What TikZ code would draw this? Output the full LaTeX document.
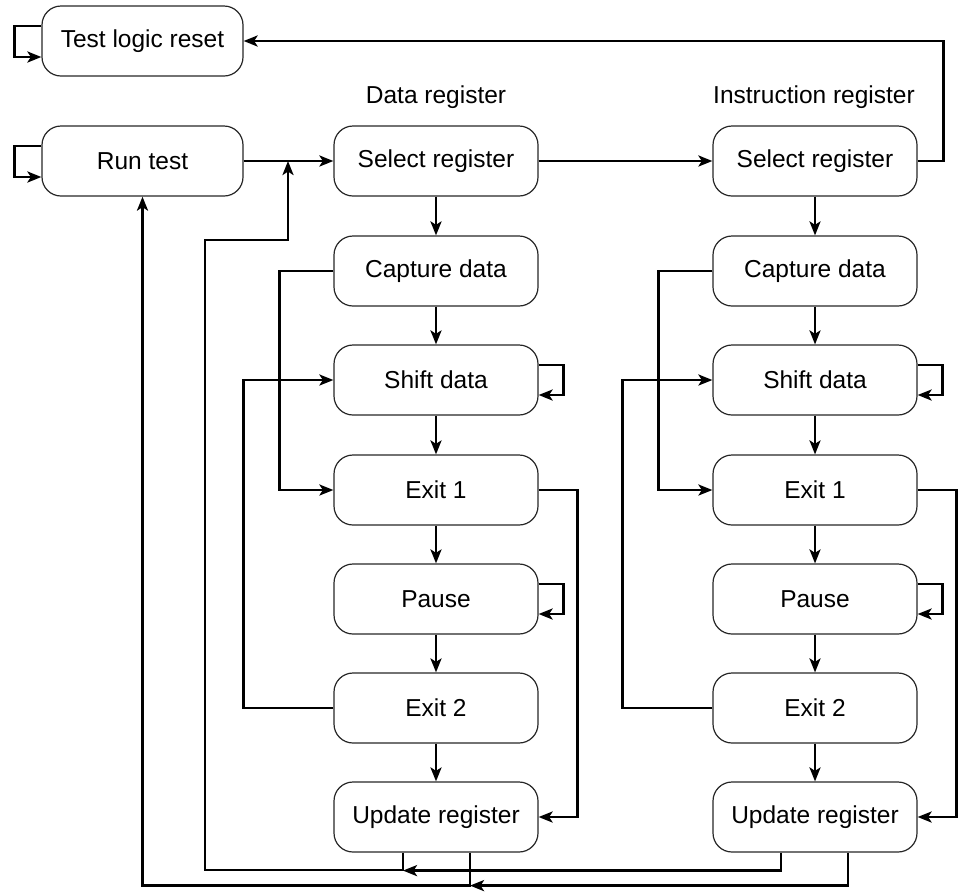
\documentclass[tikz,border=0pt]{standalone}
\usepackage{fontspec}
\setmainfont{Liberation Sans}
\usetikzlibrary{arrows.meta}
\begin{document}
\begin{tikzpicture}[x=1pt,y=-1pt,
  box/.style={draw=black!85,line width=1.2pt,rounded corners=19pt,minimum width=204pt,minimum height=70pt,inner sep=0pt,font=\fontsize{24.5}{26}\selectfont},
  lbl/.style={font=\fontsize{24.5}{26}\selectfont,inner sep=0pt},
  conn/.style={draw=black,line width=2.6pt,-{Stealth[length=14pt,width=11pt,inset=3.5pt]}}]
\useasboundingbox (0,0) rectangle (960,895);
% left column
\node[box,minimum width=201pt] (tlr) at (142.5,41) {Test logic reset};
\node[box,minimum width=201pt] (rt) at (142.5,161) {Run test};
% headers
\node[lbl] (dh) at (436,97) {Data register};
\node[lbl] (ih) at (814,97) {Instruction register};
% data column
\node[box] (dsel) at (436,161) {Select register};
\node[box] (dcap) at (436,271) {Capture data};
\node[box] (dsh) at (436,380) {Shift data};
\node[box] (de1) at (436,490) {Exit 1};
\node[box] (dpa) at (436,599) {Pause};
\node[box] (de2) at (436,708) {Exit 2};
\node[box] (dup) at (436,817) {Update register};
% instruction column
\node[box] (isel) at (815,161) {Select register};
\node[box] (icap) at (815,271) {Capture data};
\node[box] (ish) at (815,380) {Shift data};
\node[box] (ie1) at (815,490) {Exit 1};
\node[box] (ipa) at (815,599) {Pause};
\node[box] (ie2) at (815,708) {Exit 2};
\node[box] (iup) at (815,817) {Update register};
% junction coordinates
\coordinate (j1) at (288,161);
\coordinate (j2) at ([xshift=-33pt,yshift=-18pt]dup.south);
\coordinate (j3) at ([xshift=34pt,yshift=-33pt]dup.south);
% self loops left
\draw[conn] ([yshift=15pt]tlr.west) -- ++(-27,0) -- ++(0,31) -- ([yshift=-16pt]tlr.west);
\draw[conn] ([yshift=15pt]rt.west) -- ++(-27,0) -- ++(0,31) -- ([yshift=-16pt]rt.west);
% top connections
\draw[conn] (rt.east) -- (dsel.west);
\draw[conn] (dsel.east) -- (isel.west);
\draw[conn] (isel.east) -- ++(26,0) |- (tlr.east);
% column internals
\foreach \c in {d,i}{
  \draw[conn] (\c sel) -- (\c cap);
  \draw[conn] (\c cap) -- (\c sh);
  \draw[conn] (\c sh) -- (\c e1);
  \draw[conn] (\c e1) -- (\c pa);
  \draw[conn] (\c pa) -- (\c e2);
  \draw[conn] (\c e2) -- (\c up);
  \draw[conn] (\c cap.west) -- ++(-54,0) |- (\c e1.west);
  \draw[conn] (\c e2.west) -- ++(-90,0) |- (\c sh.west);
  \draw[conn] (\c e1.east) -- ++(39,0) |- (\c up.east);
  \draw[conn] ([yshift=15pt]\c sh.east) -- ++(25,0) -- ++(0,30) -- ([yshift=-15pt]\c sh.east);
  \draw[conn] ([yshift=15pt]\c pa.east) -- ++(25,0) -- ++(0,30) -- ([yshift=-15pt]\c pa.east);
}
% bottom feedback
\draw[conn] ([xshift=-33pt]dup.south) |- (205,870) -- (205,240) -- (288,240) -- (j1);
\draw[conn] ([xshift=-34pt]iup.south) |- (j2);
\draw[conn] ([xshift=34pt]dup.south) |- (rt.south |- j3) -- (rt.south);
\draw[conn] ([xshift=33pt]iup.south) |- (j3);
\end{tikzpicture}
\end{document}
